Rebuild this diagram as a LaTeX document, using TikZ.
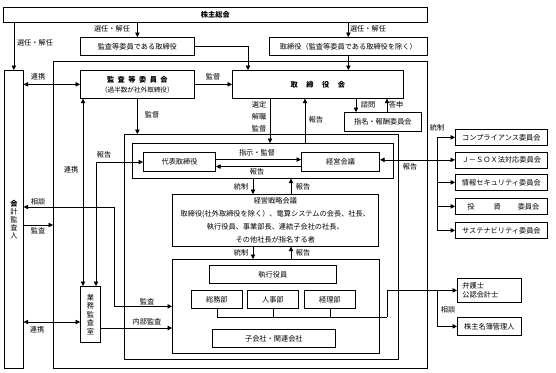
\documentclass[tikz,border=0pt]{standalone}
\usepackage{fontspec}
\setmainfont{Noto Sans CJK JP}
\usetikzlibrary{arrows.meta,calc}
\newcommand\jfs{\fontsize{7.2}{9}\selectfont}
\begin{document}
\begin{tikzpicture}[x=1pt,y=-1pt,
  box/.style={draw, line width=0.7pt, inner sep=0pt, align=center, anchor=north west, font=\jfs},
  lab/.style={inner sep=0pt, font=\jfs},
  ln/.style={line width=0.7pt},
  arr/.style={ln, -{Triangle[length=4.5pt,width=4.5pt]}},
  darr/.style={ln, {Triangle[length=4.5pt,width=4.5pt]}-{Triangle[length=4.5pt,width=4.5pt]}}]
\useasboundingbox (0,0) rectangle (556,372);
% ---- boxes
\node[box, minimum width=424pt, minimum height=15pt] (kabu) at (3,7) {\bfseries 株主総会};
\node[box, minimum width=114pt, minimum height=18pt] (kansatori) at (80,37) {監査等委員である取締役};
\node[box, minimum width=158pt, minimum height=18pt] (tori) at (269,37) {取締役（監査等委員である取締役を除く）};
\node[box, minimum width=374pt, minimum height=307pt] (outer1) at (53,61) {};
\node[box, minimum width=19pt, minimum height=298pt] (kaikei) at (4,70) {\bfseries 会\\[-1pt]計\\[-1pt]監\\[-1pt]査\\[-1pt]人};
\node[box, minimum width=114pt, minimum height=28pt] (kansaiin) at (80,70) {{\bfseries 監\hspace{3.5pt}査\hspace{3.5pt}等\hspace{3.5pt}委\hspace{3.5pt}員\hspace{3.5pt}会}\\[1pt]{\fontsize{6.6}{8}\selectfont （過半数が社外取締役）}};
\node[box, minimum width=171pt, minimum height=28pt] (torikai) at (232,70) {\bfseries 取\hspace{8.5pt}締\hspace{8.5pt}役\hspace{8.5pt}会};
\node[box, minimum width=77pt, minimum height=19pt] (shimei) at (344,112) {指名・報酬委員会};
\node[box, minimum width=274pt, minimum height=225pt] (outer2) at (124,134) {};
\node[box, minimum width=261pt, minimum height=35pt] (grp) at (132,143) {};
\node[box, line width=1.1pt, minimum width=72pt, minimum height=19pt] (daihyo) at (143,152) {代表取締役};
\node[box, line width=1.1pt, minimum width=78pt, minimum height=19pt] (keiei) at (301,152) {経営会議};
\node[box, minimum width=206pt, minimum height=52pt, font=\fontsize{7.2}{13}\selectfont] (senryaku) at (172,194) {経営戦略会議\\取締役(社外取締役を除く）、電算システムの会長、社長、\\執行役員、事業部長、連結子会社の社長、\\その他社長が指名する者};
\node[box, minimum width=207pt, minimum height=94pt] (exec) at (172,259) {};
\node[box, minimum width=127pt, minimum height=18pt] (shikko) at (209,265) {執行役員};
\node[box, minimum width=51pt, minimum height=18pt] (somu) at (191,290) {総務部};
\node[box, minimum width=51pt, minimum height=18pt] (jinji) at (247,290) {人事部};
\node[box, minimum width=51pt, minimum height=18pt] (keiri) at (304,290) {経理部};
\node[box, minimum width=123pt, minimum height=18pt] (kogaisha) at (212,329) {子会社・関連会社};
\node[box, minimum width=20pt, minimum height=56pt] (gyomu) at (80,286) {業\\[-0.5pt]務\\[-0.5pt]監\\[-0.5pt]査\\[-0.5pt]室};
\node[box, minimum width=92pt, minimum height=16pt] (c1) at (455,129) {コンプライアンス委員会};
\node[box, minimum width=92pt, minimum height=16pt] (c2) at (455,151.5) {Ｊ－ＳＯＸ法対応委員会};
\node[box, minimum width=92pt, minimum height=16pt] (c3) at (455,174) {情報セキュリティ委員会};
\node[box, minimum width=92pt, minimum height=16pt] (c4) at (455,198) {\hspace{4pt}投\hspace{19pt}資\hspace{17pt}委員会};
\node[box, minimum width=92pt, minimum height=16pt] (c5) at (455,222) {サステナビリティ委員会};
\node[box, minimum width=64pt, minimum height=24pt, text width=54pt, align=left, inner xsep=5pt, font=\fontsize{7.2}{8.8}\selectfont] (bengoshi) at (457,278) {弁護士\\公認会計士};
\node[box, minimum width=64pt, minimum height=18pt] (kabunushi) at (457,317) {株主名簿管理人};
% ---- connectors
\draw[arr] (kabu.south -| kaikei.north) -- (kaikei.north);
\node[lab] at (35,43) {選任・解任};
\draw[arr] (kabu.south -| kansatori.north) -- (kansatori.north);
\node[lab] at (112,29) {選任・解任};
\draw[arr] (kabu.south -| tori.north) -- (tori.north);
\node[lab] at (368,29) {選任・解任};
\coordinate (ta) at (248,0);
\draw[arr] (kansatori.east) -| (ta |- torikai.north);
\draw[arr] (tori.south) -- (tori.south |- torikai.north);
\draw[darr] (kaikei.east |- kansaiin.west) -- (kansaiin.west);
\node[lab] at (38,77) {連携};
\draw[arr] (kansaiin.east) -- (torikai.west);
\node[lab] at (213,77) {監督};
\draw[arr] (kansaiin.south) -- (kansaiin.south |- outer2.north);
\node[lab] at (152,115) {監督};
\coordinate (x83) at (83,0);
\draw[darr] (x83 |- kansaiin.south) -- (x83 |- gyomu.north);
\node[lab] at (71,170) {連携};
\coordinate (x96) at (96,0);
\draw[darr] (x96 |- gyomu.north) |- (daihyo.west);
\node[lab] at (104,155) {報告};
\coordinate (x270) at (270,0);
\draw[arr] (x270 |- torikai.south) -- (x270 |- grp.north);
\node[lab] at (259,105) {選定};
\node[lab] at (259,117) {解職};
\node[lab] at (259,129) {監督};
\coordinate (x305) at (305,0);
\draw[arr] (x305 |- grp.north) -- (x305 |- torikai.south);
\node[lab] at (316,120) {報告};
\coordinate (x356) at (356,0);
\coordinate (x387) at (387,0);
\draw[arr] (x356 |- torikai.south) -- (x356 |- shimei.north);
\draw[arr] (x387 |- shimei.north) -- (x387 |- torikai.south);
\node[lab] at (368,105) {諮問};
\node[lab] at (396,105) {答申};
\draw[arr] ([yshift=2.5pt]daihyo.east) -- ([yshift=2.5pt]daihyo.east -| keiei.west);
\node[lab] at (257,153) {指示・監督};
\draw[arr] ([yshift=-4.5pt]keiei.west) -- ([yshift=-4.5pt]keiei.west -| daihyo.east);
\node[lab] at (257,172) {報告};
\draw[darr] (keiei.east |- c2.west) -- (c2.west);
\node[lab] at (410,166.5) {報告};
\coordinate (xb) at (437,0);
\draw[ln] (xb |- c1.west) -- (xb |- c5.west);
\foreach \c in {c1,c3,c4,c5} \draw[arr] (xb |- \c.west) -- (\c.west);
\node[lab] at (437,128) {統制};
\coordinate (x253) at (253,0);
\coordinate (x291) at (291,0);
\draw[arr] (x253 |- grp.south) -- (x253 |- senryaku.north);
\draw[arr] (x291 |- senryaku.north) -- (x291 |- grp.south);
\node[lab] at (241,187) {統制};
\node[lab] at (303,187) {報告};
\draw[arr] (x253 |- senryaku.south) -- (x253 |- exec.north);
\draw[arr] (x291 |- exec.north) -- (x291 |- senryaku.south);
\node[lab] at (241,253) {統制};
\node[lab] at (303,253) {報告};
\coordinate (h) at (387,317);
\draw[ln] (somu.south) |- (h);
\draw[ln] (jinji.south) -- (jinji.south |- h);
\draw[ln] (keiri.south) -- (keiri.south |- h);
\draw[arr] (h) |- (bengoshi.west);
\draw[arr] (xb |- bengoshi.west) |- (kabunushi.west);
\node[lab] at (448,310) {相談};
\coordinate (p1) at (114,207);
\draw[darr] (kaikei.east |- p1) -- (p1) |- (exec.west);
\node[lab] at (38,202) {相談};
\node[lab] at (147,302) {監査};
\coordinate (y225) at (0,225);
\draw[arr] (kaikei.east |- y225) -- (outer1.west |- y225);
\node[lab] at (38,231) {監査};
\coordinate (y322) at (0,322);
\draw[darr] (kaikei.east |- y322) -- (gyomu.west |- y322);
\node[lab] at (37,330) {連携};
\coordinate (y328) at (0,328);
\draw[arr] (gyomu.east |- y328) -- (exec.west |- y328);
\node[lab] at (147,322) {内部監査};
\end{tikzpicture}
\end{document}
